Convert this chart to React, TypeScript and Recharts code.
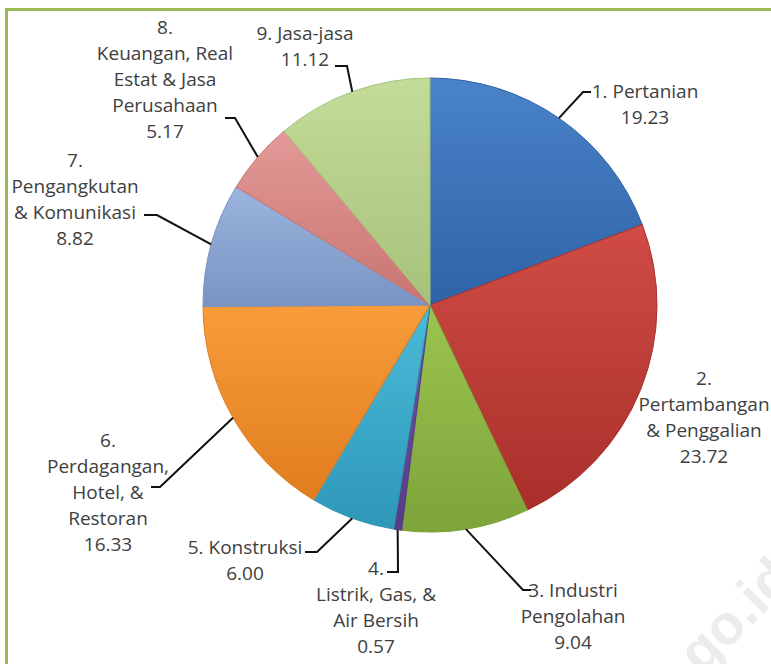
import { PieChart, Pie, Cell } from "recharts";

const sectors = [
  "1. Pertanian",
  "2. Pertambangan & Penggalian",
  "3. Industri Pengolahan",
  "4. Listrik, Gas, & Air Bersih",
  "5. Konstruksi",
  "6. Perdagangan, Hotel, & Restoran",
  "7. Pengangkutan & Komunikasi",
  "8. Keuangan, Real Estat & Jasa Perusahaan",
  "9. Jasa-jasa",
];
const shares = [19.23, 23.72, 9.04, 0.57, 6.0, 16.33, 8.82, 5.17, 11.12];

// label text lines as printed in the chart (value is appended)
const labelLines = [
  ["1. Pertanian"],
  ["2.", "Pertambangan", "& Penggalian"],
  ["3. Industri", "Pengolahan"],
  ["4.", "Listrik, Gas, &", "Air Bersih"],
  ["5. Konstruksi"],
  ["6.", "Perdagangan,", "Hotel, &", "Restoran"],
  ["7.", "Pengangkutan", "& Komunikasi"],
  ["8.", "Keuangan, Real", "Estat & Jasa", "Perusahaan"],
  ["9. Jasa-jasa"],
];

const topColors = ["#4a83c9", "#d04c45", "#9bc450", "#7055a0", "#4bbbd8", "#f89c3a", "#9ab4df", "#e39a98", "#c3dc9a"];
const bottomColors = ["#2f63a6", "#a92f2b", "#7ea43a", "#553d85", "#2e97b8", "#e07d1f", "#7a94c2", "#c87471", "#a6c27a"];

// text placement and leader line elbows, in chart pixels
const labelLayout = [
  { x: 645, y: 91, elbow: [583, 92], end: [591, 92] },
  { x: 704, y: 378, elbow: null, end: null },
  { x: 573, y: 590, elbow: [523, 590], end: [531, 590] },
  { x: 376, y: 568, elbow: [398, 572], end: [387, 572] },
  { x: 245, y: 547, elbow: [317, 552], end: [305, 552] },
  { x: 108, y: 440, elbow: [160, 487], end: [151, 487] },
  { x: 75, y: 160, elbow: [157, 215], end: [144, 215] },
  { x: 165, y: 27, elbow: [235, 118], end: [225, 118] },
  { x: 305, y: 33, elbow: [347, 66], end: [335, 66] },
];

const data = sectors.map((name, i) => ({ name, value: shares[i] }));

const RAD = Math.PI / 180;
const LINE_H = 26;

function renderLabel(props: any) {
  const { cx, cy, midAngle, outerRadius, index, value } = props;
  const lay = labelLayout[index];
  const lines = [...labelLines[index], Number(value).toFixed(2)];
  const sx = cx + outerRadius * Math.cos(-midAngle * RAD);
  const sy = cy + outerRadius * Math.sin(-midAngle * RAD);
  return (
    <g key={"lbl" + index}>
      {lay.elbow && lay.end && (
        <polyline
          points={`${sx},${sy} ${lay.elbow[0]},${lay.elbow[1]} ${lay.end[0]},${lay.end[1]}`}
          fill="none"
          stroke="#111"
          strokeWidth={2}
        />
      )}
      <text
        x={lay.x}
        y={lay.y}
        textAnchor="middle"
        fill="#404040"
        fontSize={19}
        fontFamily="'Open Sans', sans-serif"
      >
        {lines.map((t, k) => (
          <tspan key={k} x={lay.x} y={lay.y + k * LINE_H} dominantBaseline="central">
            {t}
          </tspan>
        ))}
      </text>
    </g>
  );
}

export default function App() {
  return (
    <div
      style={{
        position: "absolute",
        left: 0,
        top: 0,
        width: 771,
        height: 664,
        overflow: "hidden",
        background: "#fff",
      }}
    >
      <div
        style={{
          position: "absolute",
          left: 5,
          top: 8,
          width: 820,
          height: 720,
          border: "3px solid #9bbb59",
          boxSizing: "border-box",
        }}
      />
      <svg width={771} height={664} style={{ position: "absolute", left: 0, top: 0 }}>
        <text
          x={620}
          y={757}
          transform="rotate(-45 620 757)"
          fill="#ececec"
          fontSize={56}
          fontWeight="bold"
          fontFamily="'Liberation Sans', Arial, sans-serif"
        >
          bps.go.id
        </text>
      </svg>
      <div style={{ position: "absolute", left: 0, top: 0 }}>
        <PieChart width={771} height={664} margin={{ top: 0, right: 0, bottom: 0, left: 0 }}>
          <defs>
            {topColors.map((c, i) => (
              <linearGradient key={i} id={"g" + i} x1="0" y1="0" x2="0" y2="1">
                <stop offset="0%" stopColor={c} />
                <stop offset="100%" stopColor={bottomColors[i]} />
              </linearGradient>
            ))}
          </defs>
          <Pie
            data={data}
            dataKey="value"
            nameKey="name"
            cx={430}
            cy={305}
            outerRadius={227}
            startAngle={90}
            endAngle={-270}
            label={renderLabel}
            labelLine={false}
            isAnimationActive={false}
          >
            {data.map((d, i) => (
              <Cell key={d.name} fill={`url(#g${i})`} stroke={bottomColors[i]} strokeWidth={1} />
            ))}
          </Pie>
        </PieChart>
      </div>
    </div>
  );
}
